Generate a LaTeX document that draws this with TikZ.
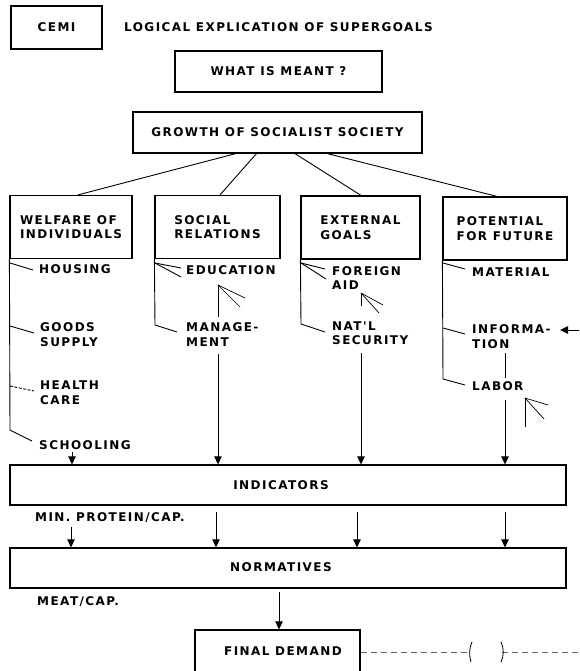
\documentclass[tikz,border=0pt]{standalone}
\usepackage{fontspec}
\newfontfamily\lblfont[LetterSpace=12]{DejaVu Sans}
\usetikzlibrary{arrows.meta}
\begin{document}
\begin{tikzpicture}[x=1pt,y=-1pt,
  txt/.style={inner sep=0pt, font=\lblfont\bfseries\fontsize{12}{14.5}\selectfont, align=left},
  box/.style={txt, draw, line width=1.2pt},
  ln/.style={line width=0.9pt},
  arr/.style={ln, -{Triangle[width=7.5pt,length=8pt]}},
  brk/.style={line width=0.8pt, draw=black!60, dash pattern=on 6pt off 4pt},
]
\useasboundingbox (0,0) rectangle (579,671);
\clip (0,0) rectangle (579,671);

% --- title row ---
\node[box, minimum width=91pt, minimum height=43pt] (cemi) at (56.5,27.5) {CEMI};
\node[txt, anchor=west] (title) at (124,27) {LOGICAL EXPLICATION OF SUPERGOALS};
\node[box, minimum width=207pt, minimum height=41pt] (what) at (278.5,71.5) {WHAT IS MEANT ?};
\node[box, minimum width=289pt, minimum height=41pt] (growth) at (277.5,132.5) {GROWTH OF SOCIALIST SOCIETY};

% --- four supergoals ---
\node[box, minimum width=122pt, minimum height=63pt] (welfare) at (71,227) {WELFARE OF\\INDIVIDUALS};
\node[box, minimum width=125pt, minimum height=63pt] (social) at (217.5,227) {SOCIAL\\RELATIONS};
\node[box, minimum width=119pt, minimum height=63pt] (external) at (360.5,227.5) {EXTERNAL\\GOALS};
\node[box, minimum width=124pt, minimum height=63pt] (potential) at (505,228.5) {POTENTIAL\\FOR FUTURE};

\coordinate (g1) at (238,153);
\coordinate (g2) at (257,153);
\coordinate (g3) at (294,153);
\coordinate (g4) at (325,153);
\draw[ln] (g1) -- (welfare.north -| 78,0);
\draw[ln] (g2) -- (social.north -| 220,0);
\draw[ln] (g3) -- (external.north -| 361,0);
\draw[ln] (g4) -- (potential.north -| 497,0);

% --- welfare items ---
\node[txt, anchor=west] (housing) at (39,269) {HOUSING};
\node[txt, anchor=west] (goods) at (40,334.5) {GOODS\\SUPPLY};
\node[txt, anchor=west] (health) at (40,392.5) {HEALTH\\CARE};
\node[txt, anchor=west] (school) at (39,445) {SCHOOLING};
\draw[ln] (welfare.south west) -- (10,430) coordinate (wEnd);
\draw[ln] (10,263) -- (33,270);
\draw[ln] (10,326) -- (34,333);
\draw[ln, dash pattern=on 3pt off 1.5pt] (10,386) -- (34,391);
\draw[ln] (wEnd) -- (32,441);

% --- social items ---
\node[txt, anchor=west] (edu) at (186,270) {EDUCATION};
\node[txt, anchor=west] (mgmt) at (186,334.5) {MANAGE-\\MENT};
\draw[ln] (social.south west) -- (155,325) coordinate (sEnd);
\draw[ln] (155,263) -- (181,268);
\draw[ln] (155,263) -- (181,277);
\draw[ln] (sEnd) -- (177,332);
\coordinate (sMark) at (218,285);
\draw[ln] (218,317) -- (sMark);
\draw[line width=0.7pt] (sMark) -- (245,298);
\draw[line width=0.7pt] (sMark) -- (240,307);

% --- external items ---
\node[txt, anchor=west] (foreign) at (332,278) {FOREIGN\\AID};
\node[txt, anchor=west] (natl) at (332,333) {NAT'L\\SECURITY};
\draw[ln] (external.south west) -- (301,324) coordinate (eEnd);
\draw[ln] (301,263) -- (325,269);
\draw[ln] (301,263) -- (326,279);
\draw[ln] (eEnd) -- (325,332);
\coordinate (eMark) at (361,293);
\draw[ln] (361,306) -- (eMark);
\draw[line width=0.7pt] (eMark) -- (383,305);
\draw[line width=0.7pt] (eMark) -- (379,313);

% --- potential items ---
\node[txt, anchor=west] (material) at (472,272) {MATERIAL};
\node[txt, anchor=west] (info) at (472,336.5) {INFORMA-\\TION};
\node[txt, anchor=west] (labor) at (472,386) {LABOR};
\draw[ln] (potential.south west) -- (443,379) coordinate (pEnd);
\draw[ln] (443,263) -- (465,269);
\draw[ln] (443,328) -- (465,334);
\draw[ln] (pEnd) -- (465,385);
\draw[ln] (505,353) -- (505,378);
\coordinate (pMark) at (525,398);
\draw[ln] (525,427) -- (pMark);
\draw[line width=0.7pt] (pMark) -- (548,405);
\draw[line width=0.7pt] (pMark) -- (544,419);
\coordinate (infoIn) at (582,330);
\draw[arr] (infoIn) -- (560,330);

% --- indicators / normatives / final demand ---
\node[draw, line width=1.2pt, minimum width=556pt, minimum height=40pt, inner sep=0pt] (ind) at (288,485) {};
\node[txt] (indtxt) at (281,485) {INDICATORS};
\node[draw, line width=1.2pt, minimum width=556pt, minimum height=40pt, inner sep=0pt] (norm) at (288,568) {};
\node[txt] (normtxt) at (281,567) {NORMATIVES};
\node[txt, anchor=west] (protein) at (35,518) {MIN. PROTEIN/CAP.};
\node[txt, anchor=west] (meat) at (37,602) {MEAT/CAP.};
\node[draw, line width=1.2pt, minimum width=165pt, minimum height=44pt, inner sep=0pt] (final) at (277.5,652) {};
\node[txt] (finaltxt) at (283,651) {FINAL DEMAND};

% arrows into INDICATORS
\coordinate (a1) at (72,452);
\coordinate (a2) at (218,354);
\coordinate (a3) at (361,353);
\coordinate (a4) at (505,400);
\foreach \p in {a1,a2,a3,a4} \draw[arr] (\p) -- (\p |- ind.north);

% arrows into NORMATIVES
\coordinate (b1) at (71,527);
\coordinate (b2) at (216,512);
\coordinate (b3) at (357,512);
\coordinate (b4) at (505,512);
\foreach \p in {b1,b2,b3,b4} \draw[arr] (\p) -- (\p |- norm.north);

% arrow into FINAL DEMAND
\coordinate (c1) at (279,592);
\draw[arr] (c1) -- (c1 |- final.north);

% broken dashed link from FINAL DEMAND
\coordinate (k1) at (470,652);
\coordinate (k2) at (502,652);
\coordinate (kEnd) at (582,652);
\draw[brk] (final.east |- k1) -- (k1);
\draw[brk] (k2) -- (kEnd);
\draw[line width=0.8pt] (472,642) .. controls (469,648) and (469,656) .. (471,662);
\draw[line width=0.8pt] (501,642) .. controls (504,648) and (504,656) .. (501,662);
\end{tikzpicture}
\end{document}
